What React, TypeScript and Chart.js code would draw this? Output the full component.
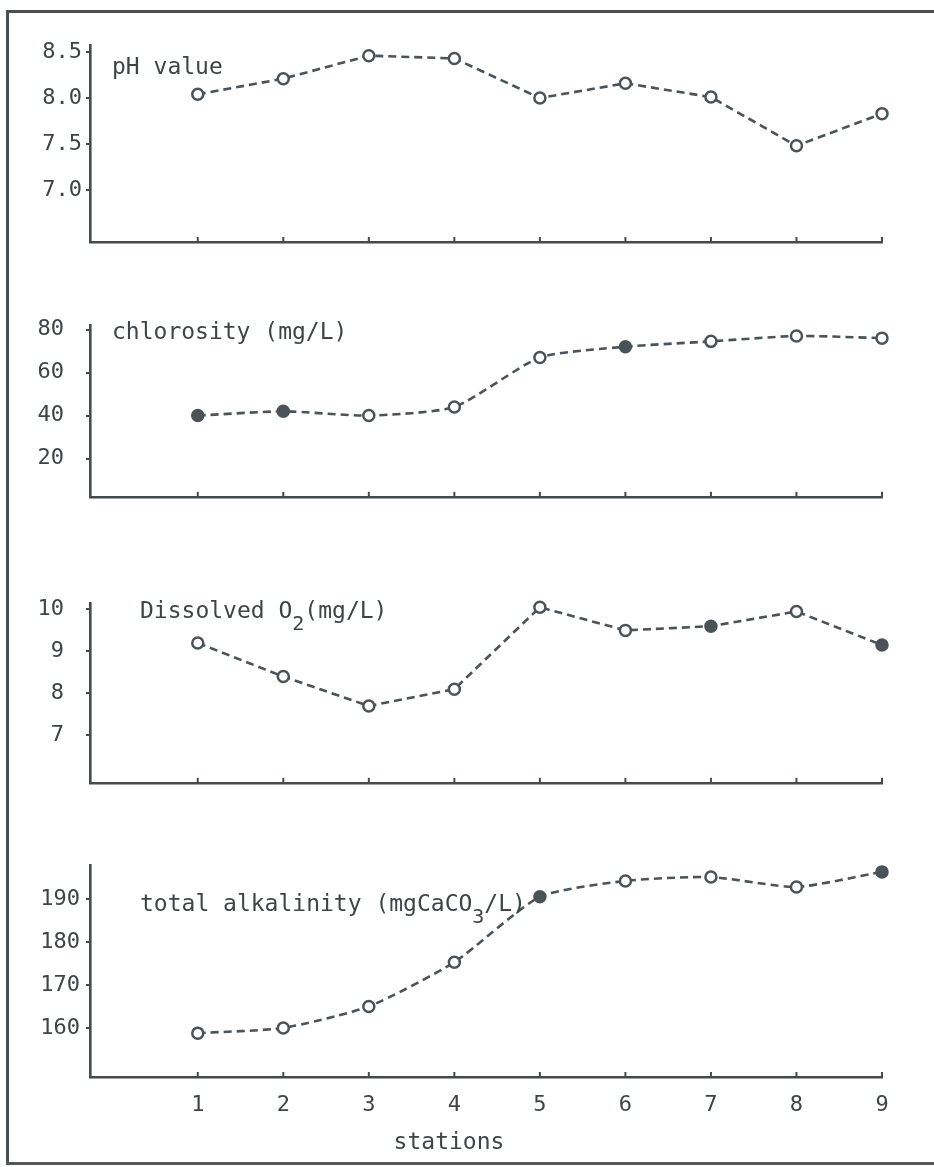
import React, { useEffect, useRef } from "react";
import { Chart, registerables } from "chart.js";

Chart.register(...registerables);

// ---------------- data ----------------
const stations = [1, 2, 3, 4, 5, 6, 7, 8, 9];
const stationLabels = ["1", "2", "3", "4", "5", "6", "7", "8", "9"];

const phValues = [8.04, 8.21, 8.46, 8.43, 8.0, 8.16, 8.01, 7.48, 7.83];
const chlorosityValues = [40, 42, 40, 44, 67, 72, 74.5, 77, 76];
const oxygenValues = [9.2, 8.4, 7.7, 8.1, 10.05, 9.5, 9.6, 9.95, 9.15];
const alkalinityValues = [158.8, 160, 165, 175.3, 190.5, 194.2, 195.1, 192.8, 196.3];

const phTicks = [7.0, 7.5, 8.0, 8.5];
const phTickLabels = ["7.0", "7.5", "8.0", "8.5"];
const chlorosityTicks = [20, 40, 60, 80];
const chlorosityTickLabels = ["20", "40", "60", "80"];
const oxygenTicks = [7, 8, 9, 10];
const oxygenTickLabels = ["7", "8", "9", "10"];
const alkalinityTicks = [160, 170, 180, 190];
const alkalinityTickLabels = ["160", "170", "180", "190"];

const phTitle = [{ t: "pH value" }];
const chlorosityTitle = [{ t: "chlorosity (mg/L)" }];
const oxygenTitle = [{ t: "Dissolved O" }, { t: "2", sub: true }, { t: "(mg/L)" }];
const alkalinityTitle = [{ t: "total alkalinity (mgCaCO" }, { t: "3", sub: true }, { t: "/L)" }];
const xAxisTitle = [{ t: "stations" }];

// ---------------- styles / layout ----------------
const FONT = '"DejaVu Sans Mono", "Liberation Mono", monospace';
const LINE = "#4a5358";
const AXIS = "#454a4d";
const TEXT = "#3f4447";

type Seg = { t: string; sub?: boolean };
type TextItem = { segs: Seg[]; dx: number; dy: number; anchor: "top" | "bottom"; align: "left" | "center"; size: number };

const textPlugin = {
  id: "panelText",
  afterDraw(chart: any, _args: any, opts: any) {
    const { ctx, chartArea } = chart;
    // inward tick marks on the station axis
    const xs = chart.scales.x;
    ctx.save();
    ctx.strokeStyle = AXIS;
    ctx.lineWidth = 2;
    for (const s of stations) {
      const px = xs.getPixelForValue(s);
      ctx.beginPath();
      ctx.moveTo(px, chartArea.bottom);
      ctx.lineTo(px, chartArea.bottom - 5);
      ctx.stroke();
    }
    ctx.restore();

    const items: TextItem[] = (opts && opts.items) || [];
    ctx.save();
    ctx.fillStyle = TEXT;
    ctx.textBaseline = "middle";
    ctx.textAlign = "left";
    for (const it of items) {
      const baseY = (it.anchor === "top" ? chartArea.top : chartArea.bottom) + it.dy;
      let total = 0;
      for (const s of it.segs) {
        ctx.font = `${s.sub ? Math.round(it.size * 0.85) : it.size}px ${FONT}`;
        total += ctx.measureText(s.t).width;
      }
      let x = chartArea.left + it.dx - (it.align === "center" ? total / 2 : 0);
      for (const s of it.segs) {
        ctx.font = `${s.sub ? Math.round(it.size * 0.85) : it.size}px ${FONT}`;
        ctx.fillText(s.t, x, baseY + (s.sub ? it.size * 0.55 : 0));
        x += ctx.measureText(s.t).width;
      }
    }
    ctx.restore();
  },
};

type Panel = {
  values: number[];
  ticks: number[];
  tickLabels: string[];
  title: Seg[];
  top: number;
  height: number;
  padTop: number;
  xh: number;
  min: number;
  max: number;
  tickPad: number;
  titleDx: number;
  titleDy: number;
  tension: number;
  filled: number[];
  showX: boolean;
};

const panels: Panel[] = [
  {
    values: phValues, ticks: phTicks, tickLabels: phTickLabels, title: phTitle,
    top: 0, height: 260, padTop: 45, xh: 18, min: 6.435, max: 8.576, tickPad: 4,
    titleDx: 22, titleDy: 23, tension: 0, filled: [], showX: false,
  },
  {
    values: chlorosityValues, ticks: chlorosityTicks, tickLabels: chlorosityTickLabels, title: chlorosityTitle,
    top: 262, height: 270, padTop: 63, xh: 18, min: 2.26, max: 82.1, tickPad: 22,
    titleDx: 22, titleDy: 8, tension: 0.2, filled: [0, 1, 5], showX: false,
  },
  {
    values: oxygenValues, ticks: oxygenTicks, tickLabels: oxygenTickLabels, title: oxygenTitle,
    top: 540, height: 278, padTop: 63, xh: 18, min: 5.87, max: 10.152, tickPad: 22,
    titleDx: 50, titleDy: 9, tension: 0, filled: [6, 8], showX: false,
  },
  {
    values: alkalinityValues, ticks: alkalinityTicks, tickLabels: alkalinityTickLabels, title: alkalinityTitle,
    top: 830, height: 337, padTop: 35, xh: 90, min: 148.6, max: 197.9, tickPad: 6,
    titleDx: 50, titleDy: 40, tension: 0.2, filled: [4, 8], showX: true,
  },
];

function PanelChart({ p }: { p: Panel }) {
  const ref = useRef<HTMLCanvasElement | null>(null);
  useEffect(() => {
    if (!ref.current) return;
    const items: TextItem[] = [
      { segs: p.title, dx: p.titleDx, dy: p.titleDy, anchor: "top", align: "left", size: 23 },
    ];
    if (p.showX) {
      items.push({ segs: xAxisTitle, dx: 359, dy: 66, anchor: "bottom", align: "center", size: 23 });
    }
    const chart = new Chart(ref.current, {
      type: "line",
      data: {
        datasets: [
          {
            data: stations.map((s, i) => ({ x: s, y: p.values[i] })),
            borderColor: LINE,
            borderWidth: 2.6,
            borderDash: [8, 5],
            tension: p.tension,
            pointRadius: 5.5,
            pointBorderWidth: 2.5,
            pointBorderColor: LINE,
            pointBackgroundColor: stations.map((_, i) => (p.filled.includes(i) ? LINE : "#ffffff")),
            clip: false,
          } as any,
        ],
      },
      options: {
        animation: false,
        responsive: false,
        devicePixelRatio: 1,
        layout: { padding: { top: p.padTop, right: 52, left: 0, bottom: 0 } },
        plugins: {
          legend: { display: false },
          tooltip: { enabled: false },
          panelText: { items },
        } as any,
        scales: {
          x: {
            type: "linear",
            min: -0.26,
            max: 9.0,
            afterBuildTicks: (s: any) => {
              s.ticks = stations.map((v) => ({ value: v }));
            },
            afterFit: (s: any) => {
              s.height = p.xh;
            },
            border: { display: true, color: AXIS, width: 2.6 },
            grid: { display: true, drawOnChartArea: false, drawTicks: false, color: AXIS, lineWidth: 2 },
            ticks: {
              display: p.showX,
              padding: 15,
              color: TEXT,
              font: { family: FONT, size: 22 },
              callback: (_v: any, i: number) => stationLabels[i],
            },
          },
          y: {
            type: "linear",
            min: p.min,
            max: p.max,
            afterBuildTicks: (s: any) => {
              s.ticks = p.ticks.map((v) => ({ value: v }));
            },
            afterFit: (s: any) => {
              s.width = 90;
            },
            border: { display: true, color: AXIS, width: 2.6 },
            grid: { display: true, drawOnChartArea: false, drawTicks: true, tickLength: 4, color: AXIS, lineWidth: 2 },
            ticks: {
              padding: p.tickPad,
              color: TEXT,
              font: { family: FONT, size: 22 },
              callback: (_v: any, i: number) => p.tickLabels[i],
            },
          },
        },
      },
      plugins: [textPlugin as any],
    });
    return () => chart.destroy();
  }, [p]);
  return (
    <canvas
      ref={ref}
      width={934}
      height={p.height}
      style={{ position: "absolute", left: 0, top: p.top, width: 934, height: p.height }}
    />
  );
}

export default function App() {
  return (
    <div
      style={{
        position: "absolute",
        left: 0,
        top: 0,
        width: 934,
        height: 1167,
        background: "#ffffff",
        overflow: "hidden",
      }}
    >
      <div style={{ position: "absolute", left: 6, top: 10, width: 928, height: 3, background: "#4b4f52" }} />
      <div style={{ position: "absolute", left: 6, top: 10, width: 3, height: 1154, background: "#4b4f52" }} />
      <div style={{ position: "absolute", left: 6, top: 1162, width: 928, height: 3, background: "#55595c" }} />
      {panels.map((p, i) => (
        <PanelChart key={i} p={p} />
      ))}
    </div>
  );
}
